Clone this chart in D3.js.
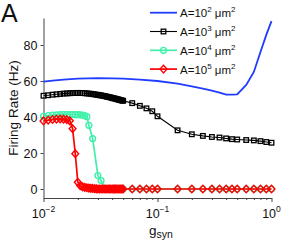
<!DOCTYPE html>
<html>
<head>
<meta charset="utf-8">
<script src="https://cdn.jsdelivr.net/npm/d3@7"></script>
<style>
  html, body { margin: 0; padding: 0; background: #fff; }
  svg { display: block; font-family: "Liberation Sans", Arial, sans-serif; }
</style>
</head>
<body>
<div id="chart"></div>
<script>
// g_syn grid shared by the A=10^3 and A=10^5 curves
const gGrid = [
  0.010, 0.011, 0.012, 0.013, 0.014, 0.015, 0.016, 0.017, 0.018, 0.019,
  0.020, 0.021, 0.022, 0.023, 0.024, 0.025, 0.026, 0.027, 0.028, 0.029,
  0.030, 0.031, 0.032, 0.033, 0.034, 0.035, 0.036, 0.037, 0.038, 0.039,
  0.040, 0.041, 0.042, 0.043, 0.044, 0.045, 0.046, 0.047, 0.048, 0.049,
  0.050, 0.06, 0.07, 0.08, 0.09, 0.1, 0.15, 0.2, 0.25, 0.3,
  0.35, 0.4, 0.45, 0.5, 0.6, 0.7, 0.8, 0.9, 1.0
];

const rateA3 = [
  51.8, 52.1, 52.4, 52.6, 52.8, 53.0, 53.1, 53.2, 53.3, 53.3,
  53.4, 53.3, 53.3, 53.2, 53.1, 53.0, 52.9, 52.7, 52.6, 52.4,
  52.3, 52.1, 52.0, 51.8, 51.7, 51.5, 51.3, 51.1, 51.0, 50.8,
  50.6, 50.4, 50.3, 50.1, 49.9, 49.8, 49.6, 49.4, 49.3, 49.1,
  49.0, 47.7, 46.2, 44.8, 43.2, 40.4, 32.6, 30.4, 29.5, 28.9,
  28.6, 28.1, 27.7, 27.5, 27.2, 27.0, 26.6, 26.1, 25.7
];

const rateA5 = [
  37.8, 38.3, 38.6, 38.8, 38.9, 38.8, 38.5, 37.9, 33.5, 19.6,
  3.8, 1.8, 1.2, 0.9, 0.7, 0.5, 0.4, 0.3, 0.2, 0.1,
  0, 0, 0, 0, 0, 0, 0, 0, 0, 0,
  0, 0, 0, 0, 0, 0, 0, 0, 0, 0,
  0, 0, 0, 0, 0, 0, 0, 0, 0, 0,
  0, 0, 0, 0, 0, 0, 0, 0, 0
];

// A=10^4 curve has its own (sparser) grid around the drop
const gA4 = [
  0.010, 0.011, 0.012, 0.013, 0.014, 0.015, 0.016, 0.017, 0.018, 0.019,
  0.020, 0.021, 0.022, 0.023, 0.024, 0.025, 0.027, 0.030, 0.032, 0.035,
  0.040, 0.045, 0.050, 0.06, 0.07, 0.08, 0.09, 0.1, 0.15, 0.2,
  0.25, 0.3, 0.35, 0.4, 0.45, 0.5, 0.6, 0.7, 0.8, 0.9, 1.0
];
const rateA4 = [
  40.4, 40.8, 41.0, 41.2, 41.3, 41.4, 41.4, 41.4, 41.4, 41.3,
  41.3, 41.2, 41.0, 40.8, 40.2, 35.4, 28.0, 7.5, 4.7, 0,
  0, 0, 0, 0, 0, 0, 0, 0, 0, 0,
  0, 0, 0, 0, 0, 0, 0, 0, 0, 0, 0
];

// A=10^2 curve (line only)
const gA2 = [
  0.01, 0.012, 0.015, 0.02, 0.025, 0.03, 0.04, 0.05, 0.07, 0.1,
  0.15, 0.2, 0.25, 0.3, 0.35, 0.4, 0.45, 0.5, 0.6, 0.7,
  0.8, 0.9, 1.0
];
const rateA2 = [
  59.7, 60.2, 60.8, 61.3, 61.5, 61.6, 61.5, 61.3, 60.8, 60.0,
  58.5, 57.0, 55.7, 54.6, 53.5, 52.4, 52.4, 52.6, 57.8, 65.0,
  76.1, 85.6, 93.3
];

const yTicks = [0, 20, 40, 60, 80];
const xMajor = [0.01, 0.1, 1];
const xMajorExp = ["-2", "-1", "0"];
const legendExp = ["2", "3", "4", "5"];

const width = 294, height = 243;

const svg = d3.select("#chart").append("svg")
  .attr("width", width)
  .attr("height", height);

const x = d3.scaleLog().domain([0.01, 1]).range([43.5, 271.5]);
const y = d3.scaleLinear().domain([-5, 95]).range([198, 18]);

// axes
const minorTicks = [];
[0.01, 0.1].forEach(d => { for (let k = 2; k <= 9; k++) minorTicks.push(d * k); });

svg.append("g")
  .attr("transform", "translate(0,198)")
  .call(d3.axisBottom(x).tickValues(xMajor).tickSize(4).tickSizeOuter(0).tickFormat(""));
svg.append("g")
  .attr("transform", "translate(0,198)")
  .call(d3.axisBottom(x).tickValues(minorTicks).tickSize(2).tickSizeOuter(0).tickFormat(""))
  .call(g => g.select(".domain").remove());

const gy = svg.append("g")
  .attr("transform", "translate(43.5,0)")
  .call(d3.axisLeft(y).tickValues(yTicks).tickSize(3).tickSizeOuter(0));

svg.selectAll(".domain").attr("stroke", "#444");
svg.selectAll(".tick line").attr("stroke", "#444");
gy.selectAll(".tick text")
  .attr("font-size", 12.5)
  .attr("fill", "#111")
  .attr("font-family", "Liberation Sans, Arial, sans-serif")
  .attr("x", -6);

// x tick labels 10^n
const xl = svg.append("g").selectAll("text")
  .data(xMajor)
  .join("text")
  .attr("x", d => x(d))
  .attr("y", 218)
  .attr("text-anchor", "middle")
  .attr("font-size", 12.5)
  .attr("fill", "#111");
xl.append("tspan").text("10");
xl.append("tspan")
  .attr("dy", -6)
  .attr("font-size", 8.5)
  .text((d, i) => xMajorExp[i].replace("-", "\u2212"));

// axis labels
svg.append("text")
  .attr("transform", "translate(17.5,108) rotate(-90)")
  .attr("text-anchor", "middle")
  .attr("font-size", 13.5)
  .attr("fill", "#111")
  .text("Firing Rate (Hz)");

const xt = svg.append("text")
  .attr("x", 161)
  .attr("y", 234.5)
  .attr("text-anchor", "middle")
  .attr("font-size", 13.5)
  .attr("fill", "#111");
xt.append("tspan").text("g");
xt.append("tspan").attr("dy", 3.5).attr("font-size", 10.5).text("syn");

svg.append("text")
  .attr("x", 1)
  .attr("y", 21.5)
  .attr("font-size", 25)
  .attr("fill", "#111")
  .text("A");

// series
const series = [
  { g: gA2, v: rateA2, color: "#1f3cff", width: 1.8, marker: null },
  { g: gGrid, v: rateA3, color: "#000000", width: 1.1, marker: "square" },
  { g: gA4, v: rateA4, color: "#40f0aa", width: 1.7, marker: "circle" },
  { g: gGrid, v: rateA5, color: "#ff0000", width: 1.7, marker: "diamond" }
];

const line = d3.line()
  .x(d => x(d[0]))
  .y(d => y(d[1]));

function drawMarker(sel, type, color) {
  if (type === "square") {
    sel.append("rect")
      .attr("x", -2.3).attr("y", -2.3).attr("width", 4.6).attr("height", 4.6)
      .attr("fill", "none").attr("stroke", color).attr("stroke-width", 1.3);
  } else if (type === "circle") {
    sel.append("circle")
      .attr("r", 2.9)
      .attr("fill", "none").attr("stroke", color).attr("stroke-width", 1.4);
  } else if (type === "diamond") {
    sel.append("path")
      .attr("d", "M0,-3.8L3.4,0L0,3.8L-3.4,0Z")
      .attr("fill", "none").attr("stroke", color).attr("stroke-width", 1.4);
  }
}

series.forEach(s => {
  const pts = s.g.map((g, i) => [g, s.v[i]]);
  svg.append("path")
    .datum(pts)
    .attr("fill", "none")
    .attr("stroke", s.color)
    .attr("stroke-width", s.width)
    .attr("d", line);
  if (s.marker) {
    const m = svg.append("g").selectAll("g")
      .data(pts)
      .join("g")
      .attr("transform", d => `translate(${x(d[0])},${y(d[1])})`);
    drawMarker(m, s.marker, s.color);
  }
});

// legend
const leg = svg.append("g").selectAll("g")
  .data(series)
  .join("g")
  .attr("transform", (d, i) => `translate(150,${12.7 + i * 18.8})`);

leg.append("line")
  .attr("x1", 0).attr("x2", 27)
  .attr("stroke", d => d.color)
  .attr("stroke-width", d => d.width);
leg.each(function(d) {
  if (d.marker) drawMarker(d3.select(this).append("g").attr("transform", "translate(13.5,0)"), d.marker, d.color);
});

const lt = leg.append("text")
  .attr("x", 30)
  .attr("y", 4.5)
  .attr("font-size", 11.5)
  .attr("fill", "#111");
lt.append("tspan").text("A=10");
lt.append("tspan").attr("dy", -5).attr("font-size", 8).text((d, i) => legendExp[i]);
lt.append("tspan").attr("dy", 5).text(" \u03bcm");
lt.append("tspan").attr("dy", -5).attr("font-size", 8).text("2");
</script>
</body>
</html>
